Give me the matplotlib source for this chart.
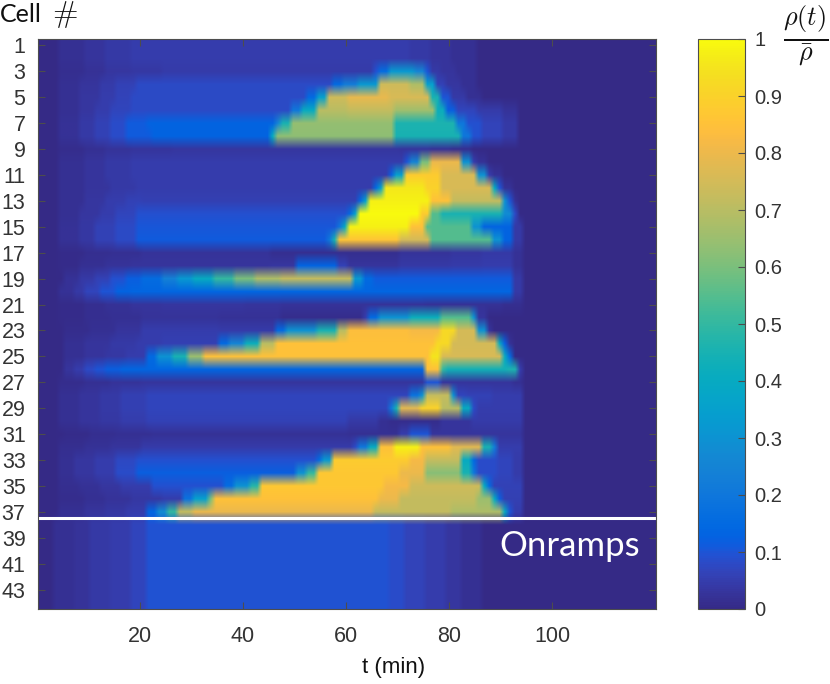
import numpy as np
import matplotlib
matplotlib.use("Agg")
import matplotlib.pyplot as plt
from matplotlib.colors import LinearSegmentedColormap

plt.rcParams['mathtext.fontset'] = 'cm'

# Each row: (last minute of the run, rho/rhobar during the run)
row01 = [(4,0),(9,.016),(13,.03),(18,.042),(72,.05),(76,.04),(80,.03),(85,.016),(120,0)]
row02 = [(4,0),(9,.016),(13,.03),(18,.042),(72,.05),(76,.04),(80,.03),(85,.016),(120,0)]
row03 = [(4,0),(9,.012),(13,.022),(18,.032),(24,.036),(65,.045),(66,.09),(68,.16),(73,.32),(75,.25),(76,.1),(78,.04),(81,.03),(85,.016),(120,0)]
row04 = [(4,0),(8,.016),(12,.03),(15,.045),(19,.06),(57,.08),(59,.15),(62,.22),(66,.32),(72,.74),(75,.68),(77,.35),(79,.06),(82,.035),(85,.016),(120,0)]
row05 = [(4,0),(8,.018),(12,.035),(15,.05),(18,.065),(52,.08),(54,.15),(56,.35),(60,.74),(68,.79),(76,.76),(78,.45),(80,.1),(83,.04),(86,.018),(120,0)]
row06 = [(4,0),(8,.018),(11,.035),(14,.05),(18,.068),(49,.08),(51,.2),(54,.4),(60,.7),(69,.72),(77,.66),(79,.42),(81,.12),(85,.07),(90,.045),(93,.025),(120,0)]
row07 = [(4,0),(8,.022),(11,.04),(14,.06),(17,.085),(21,.11),(46,.13),(47,.25),(49,.45),(69,.64),(81,.46),(83,.2),(86,.09),(90,.065),(93,.04),(120,0)]
row08 = [(4,0),(8,.022),(11,.04),(14,.06),(17,.085),(22,.11),(45,.13),(46,.4),(69,.63),(82,.45),(84,.2),(86,.09),(90,.065),(93,.04),(120,0)]
row09 = [(4,0),(9,.01),(13,.018),(18,.026),(26,.03),(70,.035),(76,.03),(80,.02),(84,.012),(120,0)]
row10 = [(4,0),(9,.016),(13,.03),(18,.042),(71,.05),(72,.1),(74,.25),(76,.6),(82,.8),(84,.3),(85,.05),(87,.02),(120,0)]
row11 = [(4,0),(9,.016),(13,.03),(18,.042),(68,.05),(69,.12),(71,.35),(78,.88),(85,.76),(87,.3),(88,.05),(90,.02),(120,0)]
row12 = [(4,0),(9,.016),(14,.03),(19,.042),(65,.05),(66,.15),(67,.35),(75,.96),(78,.9),(88,.76),(89,.4),(90,.1),(92,.02),(120,0)]
row13 = [(4,0),(9,.018),(13,.032),(17,.05),(20,.06),(62,.055),(63,.15),(64,.35),(76,.98),(80,.85),(90,.72),(91,.3),(92,.1),(93,.02),(120,0)]
row14 = [(4,0),(8,.018),(12,.032),(15,.05),(19,.07),(60,.09),(61,.15),(62,.35),(74,1),(76,.88),(78,.55),(90,.45),(92,.28),(93,.08),(120,0)]
row15 = [(4,0),(8,.022),(11,.036),(15,.06),(19,.08),(58,.105),(59,.2),(60,.4),(72,.98),(75,.85),(84,.55),(86,.3),(92,.13),(94,.04),(120,0)]
row16 = [(4,0),(8,.022),(11,.036),(15,.06),(19,.08),(56,.11),(57,.2),(58,.45),(70,.86),(76,.75),(88,.55),(90,.3),(92,.13),(94,.04),(120,0)]
row17 = [(4,0),(9,.006),(14,.012),(20,.016),(45,.025),(70,.015),(80,.025),(86,.035),(92,.04),(94,.02),(120,0)]
row18 = [(4,0),(8,.006),(13,.016),(18,.025),(45,.03),(50,.035),(58,.13),(60,.06),(70,.03),(80,.04),(86,.045),(92,.05),(94,.02),(120,0)]
row19 = [(5,0),(8,.02),(11,.04),(14,.06),(17,.09),(20,.12),(24,.16),(27,.24),(30,.32),(34,.4),(38,.5),(42,.6),(47,.68),(61,.72),(63,.32),(65,.15),(92,.11),(94,.04),(120,0)]
row20 = [(4,0),(7,.02),(9,.04),(12,.07),(15,.1),(18,.13),(92,.14),(94,.04),(120,0)]
row21 = [(4,0),(9,.006),(13,.012),(18,.02),(24,.03),(40,.035),(47,.03),(75,.025),(90,.02),(94,.012),(120,0)]
row22 = [(4,0),(9,.006),(14,.012),(20,.016),(35,.025),(47,.02),(63,.01),(64,.05),(66,.15),(72,.3),(78,.42),(84,.55),(85,.3),(87,.03),(120,0)]
row23 = [(5,0),(10,.01),(15,.018),(20,.03),(35,.05),(46,.045),(48,.15),(54,.3),(58,.45),(60,.7),(72,.84),(78,.82),(81,.92),(85,.75),(87,.3),(88,.03),(120,0)]
row24 = [(5,0),(9,.016),(14,.03),(19,.042),(24,.05),(35,.055),(37,.15),(40,.25),(43,.42),(46,.7),(77,.85),(80,.92),(89,.75),(90,.4),(91,.12),(92,.02),(120,0)]
row25 = [(5,0),(9,.016),(13,.028),(17,.036),(21,.05),(23,.15),(26,.3),(29,.45),(32,.65),(76,.85),(78,.95),(90,.76),(91,.4),(92,.15),(120,0)]
row26 = [(5,0),(7,.03),(9,.05),(11,.08),(13,.1),(16,.12),(75,.14),(78,.85),(79,.5),(91,.44),(93,.46),(94,.05),(120,0)]
row27 = [(4,0),(9,.01),(14,.016),(20,.025),(75,.03),(78,.1),(92,.03),(94,.016),(120,0)]
row28 = [(4,0),(8,.016),(12,.03),(16,.042),(21,.055),(72,.07),(74,.18),(75,.3),(80,.72),(81,.3),(83,.07),(88,.06),(94,.05),(120,0)]
row29 = [(4,0),(8,.016),(12,.03),(16,.042),(21,.055),(68,.07),(69,.2),(70,.45),(74,.78),(78,.9),(82,.7),(84,.4),(85,.08),(94,.05),(120,0)]
row30 = [(4,0),(8,.016),(12,.028),(16,.036),(21,.05),(60,.06),(66,.04),(68,.016),(78,.01),(84,.03),(94,.045),(120,0)]
row31 = [(5,0),(10,.006),(15,.012),(22,.016),(60,.02),(70,.016),(72,.05),(76,.1),(78,.03),(94,.03),(120,0)]
row32 = [(4,0),(9,.012),(14,.022),(20,.03),(61,.045),(62,.08),(64,.2),(66,.4),(69,.85),(74,.98),(80,.85),(86,.78),(88,.45),(89,.22),(94,.05),(120,0)]
row33 = [(4,0),(7,.016),(11,.032),(15,.05),(19,.075),(54,.09),(55,.15),(57,.32),(72,.88),(75,.82),(82,.72),(84,.4),(85,.15),(89,.085),(92,.07),(94,.045),(120,0)]
row34 = [(4,0),(7,.018),(11,.032),(15,.05),(19,.085),(50,.12),(52,.3),(54,.5),(70,.87),(75,.8),(82,.62),(84,.45),(85,.2),(89,.085),(92,.07),(94,.045),(120,0)]
row35 = [(4,0),(8,.012),(12,.022),(16,.032),(22,.05),(36,.09),(38,.16),(41,.3),(43,.48),(67,.87),(72,.82),(86,.74),(87,.4),(88,.15),(94,.06),(120,0)]
row36 = [(4,0),(9,.01),(13,.016),(18,.026),(24,.036),(28,.05),(30,.18),(33,.35),(34,.6),(66,.85),(70,.8),(85,.72),(88,.65),(89,.4),(90,.12),(94,.055),(120,0)]
row37 = [(4,0),(9,.016),(13,.028),(17,.036),(21,.05),(23,.14),(25,.28),(27,.5),(30,.72),(65,.8),(80,.72),(90,.68),(91,.4),(92,.1),(94,.05),(120,0)]
onramp = [(3,0),(7,.018),(10,.025),(14,.04),(18,.047),(21,.07),(68,.095),(71,.085),(75,.065),(79,.05),(82,.035),(86,.018),(120,0)]

upper_rows = [row01,row02,row03,row04,row05,row06,row07,row08,row09,row10,row11,row12,
              row13,row14,row15,row16,row17,row18,row19,row20,row21,row22,row23,row24,
              row25,row26,row27,row28,row29,row30,row31,row32,row33,row34,row35,row36,row37]
onramp_rows = [onramp]*7

y_ticks = list(range(1, 44, 2))
x_ticks = [20, 40, 60, 80, 100]
cbar_ticks = [0, .1, .2, .3, .4, .5, .6, .7, .8, .9, 1]
cbar_labels = ['0', '0.1', '0.2', '0.3', '0.4', '0.5', '0.6', '0.7', '0.8', '0.9', '1']

parula = LinearSegmentedColormap.from_list('parula', [
 (.2081,.1663,.5292),(.2116,.1898,.5777),(.2123,.2138,.6270),(.2081,.2386,.6771),
 (.1959,.2645,.7279),(.1707,.2919,.7792),(.1253,.3242,.8303),(.0591,.3598,.8683),
 (.0117,.3875,.8820),(.0060,.4086,.8828),(.0165,.4266,.8786),(.0329,.4430,.8720),
 (.0498,.4586,.8641),(.0629,.4737,.8554),(.0723,.4887,.8467),(.0779,.5040,.8384),
 (.0793,.5200,.8312),(.0749,.5375,.8263),(.0641,.5570,.8240),(.0488,.5772,.8228),
 (.0343,.5966,.8199),(.0265,.6137,.8135),(.0239,.6287,.8038),(.0231,.6418,.7913),
 (.0228,.6535,.7768),(.0267,.6642,.7607),(.0384,.6743,.7436),(.0590,.6838,.7254),
 (.0843,.6928,.7062),(.1133,.7015,.6859),(.1453,.7098,.6646),(.1801,.7177,.6424),
 (.2178,.7250,.6193),(.2586,.7317,.5954),(.3022,.7376,.5712),(.3482,.7424,.5473),
 (.3953,.7459,.5244),(.4420,.7481,.5033),(.4871,.7491,.4840),(.5300,.7491,.4661),
 (.5709,.7485,.4494),(.6099,.7473,.4337),(.6473,.7456,.4188),(.6834,.7435,.4044),
 (.7184,.7411,.3905),(.7525,.7384,.3768),(.7858,.7356,.3633),(.8185,.7327,.3498),
 (.8507,.7299,.3360),(.8824,.7274,.3217),(.9139,.7258,.3063),(.9450,.7261,.2886),
 (.9739,.7314,.2666),(.9938,.7455,.2403),(.9990,.7653,.2164),(.9955,.7861,.1967),
 (.9880,.8066,.1794),(.9789,.8271,.1633),(.9697,.8481,.1475),(.9626,.8705,.1309),
 (.9589,.8949,.1132),(.9598,.9218,.0948),(.9661,.9514,.0755),(.9763,.9831,.0538)], N=256)

def expand(segments):
    cells, start = [], 0
    for end, value in segments:
        cells += [value]*(end-start)
        start = end
    return cells

density = np.array([expand(r) for r in upper_rows + onramp_rows], dtype=float)

W, H = 830, 684
fig = plt.figure(figsize=(W/100, H/100), dpi=100)
L, R, T, B = 38, 656, 39, 609
ax = fig.add_axes([L/W, 1-B/H, (R-L)/W, (B-T)/H])
im = ax.imshow(density, cmap=parula, vmin=0, vmax=1, aspect='auto',
               interpolation='bilinear', interpolation_stage='rgba',
               extent=(0.2, 120.2, 44.5, 0.5))
ax.axhline(37.5, color='white', lw=2.2)

edge = '#4d4d4d'
txt = '#333333'
sans = 'Liberation Sans'
ax.set_xticks(x_ticks)
ax.set_yticks(y_ticks)
ax.tick_params(direction='in', length=5, width=0.8, color=edge, top=True, right=True,
               labelsize=15.5, labelcolor=txt)
ax.tick_params(axis='x', pad=12)
ax.tick_params(axis='y', pad=9)
for lab in ax.get_xticklabels() + ax.get_yticklabels():
    lab.set_family(sans)
for s in ax.spines.values():
    s.set_color(edge); s.set_linewidth(0.8)
fig.text(394/W, 1-667/H, 't (min)', fontsize=16, family=sans, color='#111111', ha='center', va='center')
fig.text(640/W, 1-546/H, 'Onramps', ha='right', va='center',
         color='white', fontsize=25, family='Lato')

cax = fig.add_axes([698/W, 1-B/H, (745-698)/W, (B-T)/H])
cb = fig.colorbar(im, cax=cax, ticks=cbar_ticks)
cb.ax.set_yticklabels(cbar_labels, family=sans, fontsize=14.5, color=txt)
cb.ax.tick_params(direction='in', length=5, width=0.8, color=edge, pad=7)
cb.outline.set_edgecolor(edge); cb.outline.set_linewidth(0.8)

fig.text(0/W, 1-15/H, 'Cell', fontsize=18, family='Lato', color='#111111', va='center', ha='left')
fig.text(52/W, 1-15/H, r'$\#$', fontsize=22, color='#111111', va='center', ha='left')
fig.text(806/W, 1-36/H, r'$\frac{\rho(t)}{\bar{\rho}}$', fontsize=27, color='#111111',
         va='center', ha='center')

fig.savefig('out.png', dpi=100)
